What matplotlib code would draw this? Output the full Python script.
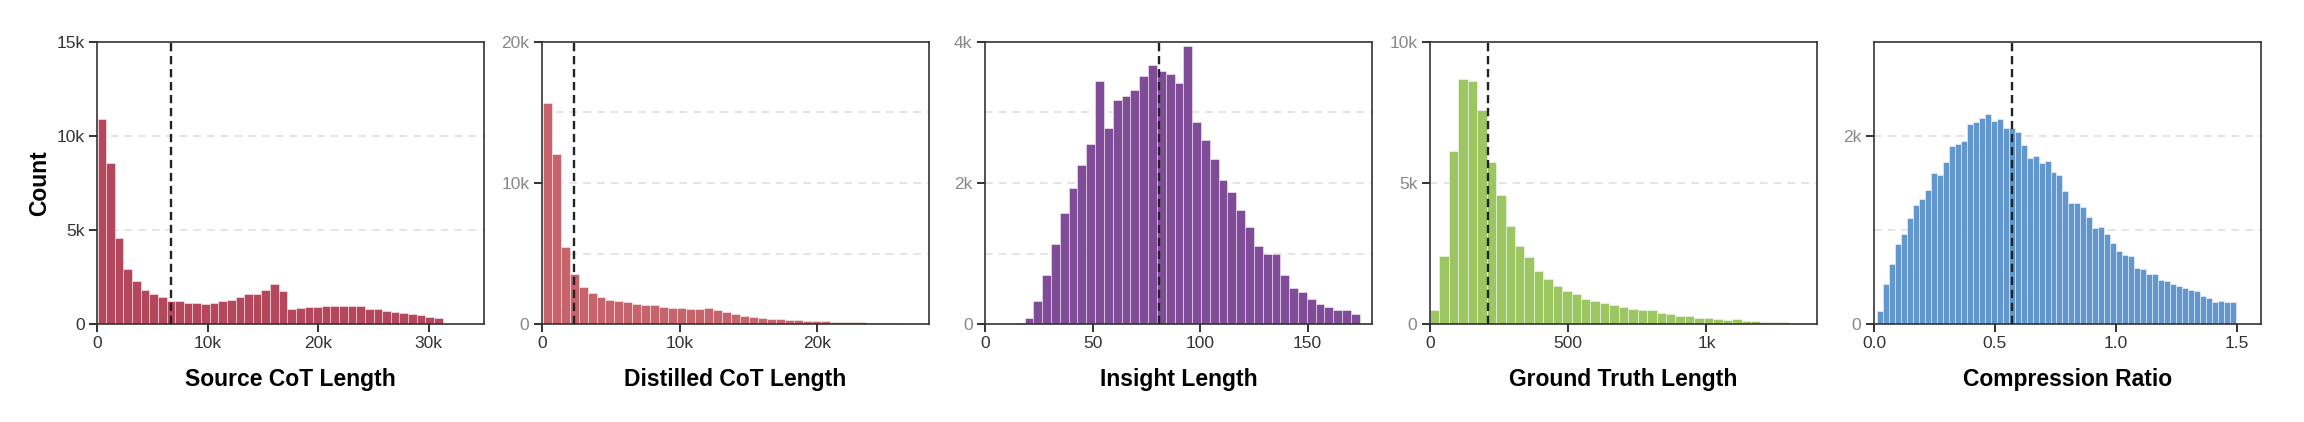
import numpy as np
import matplotlib
matplotlib.use("Agg")
import matplotlib.pyplot as plt

plt.rcParams["font.family"] = ["Liberation Sans", "DejaVu Sans"]

# histogram bin counts
source_cot = [10900, 8590, 4570, 2950, 2280, 1830, 1570, 1460, 1250, 1230,
              1120, 1100, 1070, 1120, 1250, 1300, 1420, 1570, 1620, 1830,
              2120, 1760, 820, 850, 930, 890, 980, 960, 960, 940,
              940, 820, 780, 710, 640, 600, 530, 460, 360, 340]
source_range = (50, 31250)
source_median = 6650

distilled_cot = [15640, 12090, 5430, 3530, 2650, 2230, 1920, 1710, 1640, 1560,
                 1420, 1370, 1350, 1210, 1140, 1140, 1070, 1070, 1110, 1000,
                 880, 710, 570, 500, 400, 360, 360, 310, 310, 240,
                 240, 210, 170, 140, 140, 140, 90, 90, 90, 70]
distilled_range = (50, 26100)
distilled_median = 2330

insight = [15, 90, 320, 700, 1130, 1570, 1930, 2250, 2550, 3450,
           2780, 3180, 3240, 3320, 3520, 3680, 3590, 3550, 3420, 3950,
           2860, 2610, 2340, 2040, 1870, 1610, 1370, 1110, 990, 1000,
           690, 510, 450, 360, 290, 240, 200, 200, 140]
insight_range = (14.3, 174.3)
insight_median = 81

ground_truth = [480, 2420, 6150, 8680, 8610, 7600, 5750, 4570, 3460, 2770,
                2360, 1890, 1610, 1360, 1180, 1070, 890, 800, 730, 670,
                600, 540, 500, 500, 390, 370, 290, 290, 210, 210,
                180, 150, 180, 110, 110, 80, 70, 60, 50, 40]
ground_truth_range = (0, 1366)
ground_truth_median = 210

compression = [140, 430, 640, 850, 960, 1130, 1270, 1330, 1430, 1610,
               1580, 1720, 1890, 1910, 1950, 2130, 2150, 2190, 2230, 2160,
               2180, 2080, 2080, 2040, 1900, 1770, 1790, 1710, 1730, 1620,
               1590, 1420, 1290, 1290, 1240, 1140, 1020, 1030, 960, 860,
               780, 730, 720, 600, 590, 530, 530, 470, 460, 430,
               400, 380, 360, 350, 300, 280, 230, 250, 230, 230]
compression_range = (0.014, 1.495)
compression_median = 0.572

panels = [
    ("Source CoT Length", source_cot, source_range, source_median, "#b5475c",
     (0, 35000), [0, 10000, 20000, 30000], (0, 15000), [0, 5000, 10000, 15000], [5000, 10000]),
    ("Distilled CoT Length", distilled_cot, distilled_range, distilled_median, "#c7636b",
     (0, 28100), [0, 10000, 20000], (0, 20000), [0, 10000, 20000], [5000, 10000, 15000]),
    ("Insight Length", insight, insight_range, insight_median, "#804c98",
     (0, 180), [0, 50, 100, 150], (0, 4000), [0, 2000, 4000], [1000, 2000, 3000]),
    ("Ground Truth Length", ground_truth, ground_truth_range, ground_truth_median, "#9bc662",
     (0, 1400), [0, 500, 1000], (0, 10000), [0, 5000, 10000], [5000]),
    ("Compression Ratio", compression, compression_range, compression_median, "#6297ce",
     (0, 1.6), [0.0, 0.5, 1.0, 1.5], (0, 3000), [0, 2000], [1000, 2000]),
]


def kfmt(v):
    if v >= 1000:
        return f"{v / 1000:g}k"
    return f"{v:g}"


fig = plt.figure(figsize=(23.04, 4.22), dpi=100)
lefts = [97, 542, 985, 1430, 1874]

for i, (label, counts, rng, med, color, xlim, xticks, ylim, yticks, grid) in enumerate(panels):
    ax = fig.add_axes([lefts[i] / 2304, 98 / 422, 387 / 2304, 282 / 422])
    edges = np.linspace(rng[0], rng[1], len(counts) + 1)
    for g in grid:
        ax.axhline(g, color="#dddddd", lw=1.1, ls=(0, (5, 4)), zorder=0)
    ax.bar(edges[:-1], counts, width=np.diff(edges), align="edge", color=color,
           edgecolor=(1, 1, 1, 0.55), linewidth=0.6, zorder=2)
    ax.axvline(med, color="#222222", lw=1.7, ls=(0, (3.5, 2)), zorder=3)
    ax.set_xlim(*xlim)
    ax.set_ylim(*ylim)
    ax.set_xticks(xticks)
    ax.set_yticks(yticks)
    if i == 4:
        ax.set_xticklabels([f"{v:.1f}" for v in xticks])
    else:
        ax.set_xticklabels([kfmt(v) for v in xticks])
    ax.set_yticklabels([kfmt(v) for v in yticks])
    for s in ax.spines.values():
        s.set_color("#333333")
        s.set_linewidth(1.2)
    ax.tick_params(axis="both", length=5.5, width=1.3, color="#222222", labelsize=12.5)
    ax.tick_params(axis="x", labelcolor="#333333")
    ax.tick_params(axis="y", labelcolor="#333333" if i == 0 else "#888888")
    ax.set_xlabel(label, fontsize=16.5, fontweight="bold", labelpad=12)
    if i == 0:
        ax.set_ylabel("Count", fontsize=16.5, fontweight="bold", labelpad=4)

fig.savefig("out.png", dpi=100)
